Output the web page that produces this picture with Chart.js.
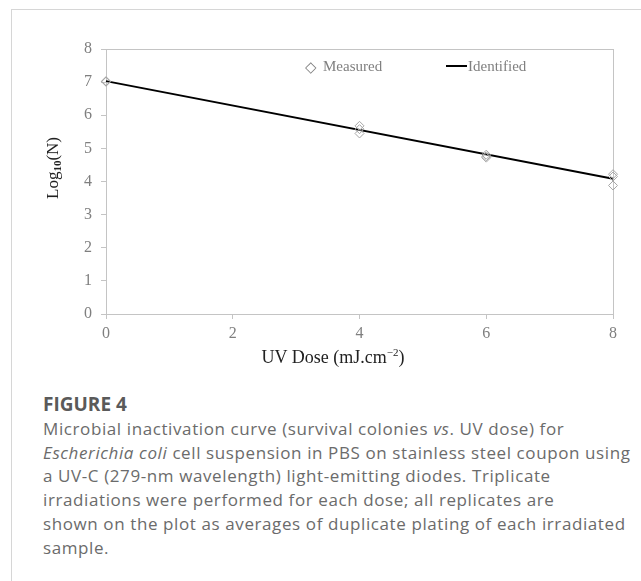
<!DOCTYPE html>
<html lang="en">
<head>
    <style>
        body {
            margin: 0;
            background-color: #fff;
            width: 641px;
            height: 581px;
            overflow: hidden;
            position: relative;
        }

        #frame {
            position: absolute;
            left: 11px;
            top: 9px;
            width: 700px;
            height: 700px;
            border: 1px solid #d6d6d6;
        }

        #chartBox {
            position: absolute;
            left: 0;
            top: 0;
            width: 641px;
            height: 380px;
        }

        .serif {
            font-family: 'Liberation Serif', 'Times New Roman', serif;
            position: absolute;
            white-space: nowrap;
        }

        #yTitle {
            left: 53px;
            top: 168px;
            font-size: 17px;
            color: #222;
            transform: translate(-50%, -50%) rotate(-90deg);
        }

        #yTitle sub {
            font-size: 11px;
            font-weight: bold;
            vertical-align: -3px;
        }

        #xTitle {
            left: 333px;
            top: 357px;
            font-size: 18px;
            color: #222;
            transform: translate(-50%, -50%);
        }

        #xTitle sup {
            font-size: 11px;
            vertical-align: 7px;
        }

        .legendText {
            font-size: 15px;
            color: #808080;
            top: 58px;
        }

        #caption {
            position: absolute;
            left: 43px;
            top: 393px;
            width: 600px;
            font-family: 'Open Sans', sans-serif;
            font-size: 17px;
            line-height: 23.8px;
            letter-spacing: 0.6px;
            color: #6b6b6b;
            white-space: nowrap;
        }

        #caption .fig {
            font-weight: bold;
            color: #5a5a5a;
            font-size: 19px;
            letter-spacing: 0;
        }
    </style>
</head>
<body>

<div id="frame"></div>

<div id="chartBox">
    <canvas id="inactivationChart"></canvas>
</div>

<div class="serif" id="yTitle">Log<sub>10</sub>(N)</div>
<div class="serif" id="xTitle">UV Dose (mJ.cm<sup>&minus;2</sup>)</div>

<!-- legend sits inside the plot box -->
<div class="serif legendText" style="left:305px;">&#9671;</div>
<div class="serif legendText" style="left:323px;">Measured</div>
<div style="position:absolute; left:446px; top:65px; width:21px; height:2px; background:#000;"></div>
<div class="serif legendText" style="left:468px;">Identified</div>

<div id="caption">
    <div class="fig">FIGURE 4</div>
    Microbial inactivation curve (survival colonies <i>vs</i>. UV dose) for<br>
    <i>Escherichia coli</i> cell suspension in PBS on stainless steel coupon using<br>
    a UV-C (279-nm wavelength) light-emitting diodes. Triplicate<br>
    irradiations were performed for each dose; all replicates are<br>
    shown on the plot as averages of duplicate plating of each irradiated<br>
    sample.
</div>

<script src="https://cdn.jsdelivr.net/npm/chart.js"></script>
<script>
    // UV doses (mJ/cm2) and the three replicate log10(N) counts at each dose
    const doses = [0, 4, 6, 8];
    const rep1 = [7.03, 5.68, 4.81, 4.22];
    const rep2 = [7.02, 5.58, 4.76, 4.15];
    const rep3 = [7.01, 5.45, 4.72, 3.88];

    // identified (fitted) line end points
    const fitDose = [0, 8];
    const fitLog = [7.03, 4.08];

    const xTicks = [0, 2, 4, 6, 8];
    const yTicks = [0, 1, 2, 3, 4, 5, 6, 7, 8];

    const measuredPoints = [];
    [rep1, rep2, rep3].forEach(rep => {
        rep.forEach((v, i) => measuredPoints.push({ x: doses[i], y: v }));
    });
    const fitPoints = fitDose.map((d, i) => ({ x: d, y: fitLog[i] }));

    // plot box (top and right edges too)
    const boxPlugin = {
        id: 'box',
        beforeDatasetsDraw(chart) {
            const a = chart.chartArea;
            const ctx = chart.ctx;
            ctx.save();
            ctx.strokeStyle = '#c4c4c4';
            ctx.lineWidth = 1;
            ctx.strokeRect(a.left + 0.5, a.top + 0.5, a.right - a.left, a.bottom - a.top);
            ctx.restore();
        }
    };

    const tickFont = { family: "'Liberation Serif', 'Times New Roman', serif", size: 16 };

    new Chart(document.getElementById('inactivationChart').getContext('2d'), {
        type: 'scatter',
        data: {
            datasets: [
                {
                    label: 'Identified',
                    data: fitPoints,
                    showLine: true,
                    borderColor: '#000',
                    borderWidth: 2,
                    pointRadius: 0,
                    clip: false,
                    order: 2
                },
                {
                    label: 'Measured',
                    data: measuredPoints,
                    pointStyle: 'rectRot',
                    pointRadius: 4.5,
                    pointBackgroundColor: 'rgba(255,255,255,0)',
                    pointBorderColor: '#a6a6a6',
                    pointBorderWidth: 1,
                    clip: false,
                    order: 1
                }
            ]
        },
        options: {
            responsive: true,
            maintainAspectRatio: false,
            animation: false,
            layout: { padding: { left: 0, right: 28, top: 49, bottom: 0 } },
            plugins: {
                legend: { display: false },
                tooltip: { enabled: false }
            },
            scales: {
                x: {
                    type: 'linear',
                    min: 0,
                    max: 8,
                    afterBuildTicks: s => { s.ticks = xTicks.map(v => ({ value: v })); },
                    afterFit: s => { s.height = 66; },
                    border: { color: '#c4c4c4' },
                    grid: { drawOnChartArea: false, tickLength: 5, color: '#c4c4c4' },
                    ticks: { font: tickFont, color: '#7f7f7f', padding: 5, maxRotation: 0 }
                },
                y: {
                    min: 0,
                    max: 8,
                    afterBuildTicks: s => { s.ticks = yTicks.map(v => ({ value: v })); },
                    afterFit: s => { s.width = 106; },
                    border: { color: '#c4c4c4' },
                    grid: { drawOnChartArea: false, tickLength: 5, color: '#c4c4c4' },
                    ticks: { font: tickFont, color: '#7f7f7f', padding: 9 }
                }
            }
        },
        plugins: [boxPlugin]
    });
</script>

</body>
</html>
